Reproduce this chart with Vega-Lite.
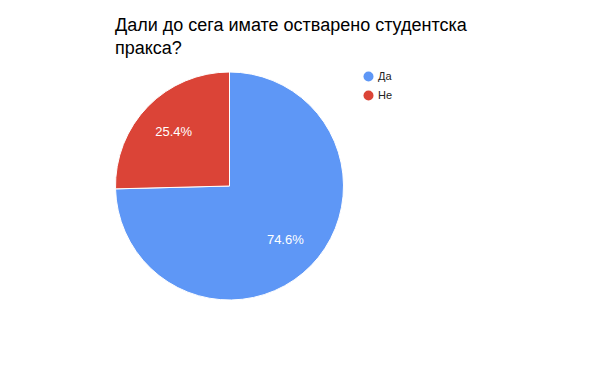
{
  "$schema": "https://vega.github.io/schema/vega-lite/v6.json",
  "autosize": "none",
  "width": 459,
  "height": 252,
  "padding": {"left": 0, "top": 60, "right": 141, "bottom": 59},
  "background": "white",
  "title": {
    "text": ["Дали до сега имате остварено студентска", "пракса?"],
    "anchor": "start",
    "orient": "top",
    "dx": 115,
    "offset": 2,
    "limit": 600,
    "font": "Liberation Sans",
    "fontSize": 18,
    "fontWeight": "normal",
    "lineHeight": 23,
    "color": "#000000"
  },
  "data": {
    "values": [
      {"answer": "Да", "share": 0.746, "order": 1},
      {"answer": "Не", "share": 0.254, "order": 2}
    ]
  },
  "encoding": {
    "theta": {"field": "share", "type": "quantitative", "stack": true},
    "order": {"field": "order", "type": "quantitative"},
    "color": {
      "field": "answer",
      "type": "nominal",
      "sort": ["Да", "Не"],
      "scale": {"domain": ["Да", "Не"], "range": ["#5e97f6", "#db4437"]},
      "legend": {
        "title": null,
        "orient": "none",
        "legendX": 363,
        "legendY": 11,
        "symbolType": "circle",
        "symbolSize": 100,
        "symbolStrokeWidth": 0,
        "rowPadding": 7,
        "labelFont": "Liberation Sans",
        "labelFontSize": 11,
        "labelColor": "#222222",
        "labelOffset": 4
      }
    }
  },
  "layer": [
    {
      "mark": {"type": "arc", "outerRadius": 114, "stroke": "white", "strokeWidth": 1}
    },
    {
      "mark": {"type": "text", "radius": 78, "font": "Liberation Sans", "fontSize": 13, "fill": "white"},
      "encoding": {
        "text": {"field": "share", "type": "quantitative", "format": ".1%"},
        "color": {"value": "white"}
      }
    }
  ]
}
